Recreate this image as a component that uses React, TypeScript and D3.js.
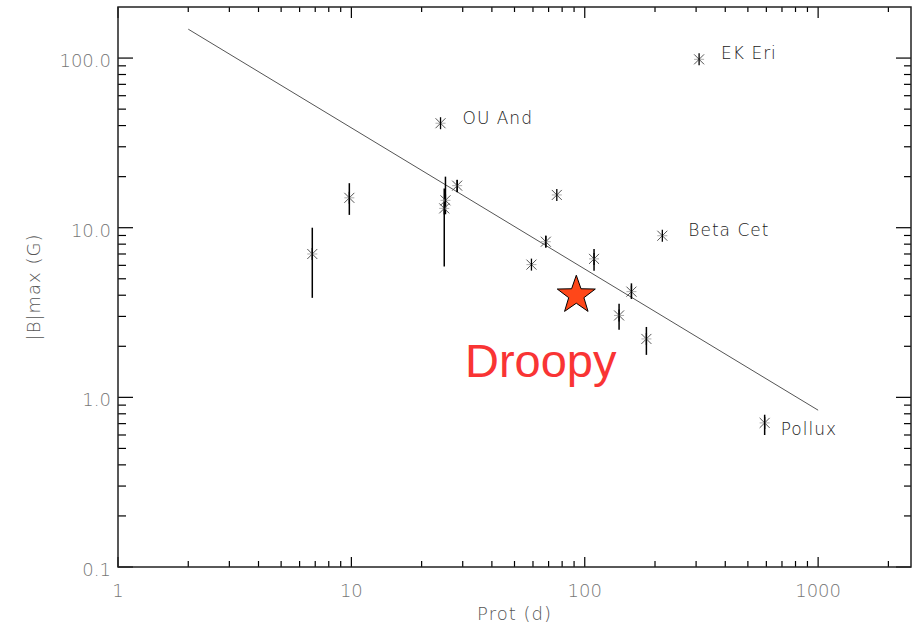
import React from "react";
import * as d3 from "d3";

// rotation period (d) and max field (G) for the stars
const prot = [6.8, 9.8, 24.1, 25.3, 25.0, 28.4, 59.1, 68.1, 75.9, 109.6, 140.3, 158.5, 183.7, 215, 309, 590];
const bmax = [7.0, 15.0, 41.3, 14.5, 13.0, 17.7, 6.06, 8.27, 15.6, 6.55, 3.04, 4.2, 2.21, 8.97, 98.3, 0.707];
const errLo = [3.86, 11.9, 41.3, 12.0, 5.9, 16.2, 6.06, 7.67, 15.6, 5.58, 2.5, 3.8, 1.78, 8.97, 98.3, 0.6];
const errHi = [10.0, 18.3, 41.3, 20.0, 17.0, 19.1, 6.06, 8.97, 15.6, 7.5, 3.56, 4.7, 2.6, 8.97, 98.3, 0.79];

// named stars: index into the arrays above
const labelNames = ["OU And", "EK Eri", "Beta Cet", "Pollux"];
const labelIdx = [2, 14, 13, 15];

const fitX = [2, 1000];
const fitY = [148, 0.84];

const droopyP = 92;
const droopyB = 4.0;

const xMajor = [1, 10, 100, 1000];
const xMajorLabels = ["1", "10", "100", "1000"];
const yMajor = [0.1, 1, 10, 100];
const yMajorLabels = ["0.1", "1.0", "10.0", "100.0"];

const W = 917;
const H = 625;
const m = { top: 7, right: 6, bottom: 58, left: 118 };

// where each label sits relative to its point
const labelOffset: Record<string, [number, number]> = {
  "OU And": [22, 1],
  "EK Eri": [22, 0],
  "Beta Cet": [26, 0],
  Pollux: [16, 12],
};

const minorTicks = (lo: number, hi: number) => {
  const out: number[] = [];
  for (let p = Math.floor(Math.log10(lo)); p <= Math.ceil(Math.log10(hi)); p++) {
    for (let k = 2; k <= 9; k++) {
      const v = k * Math.pow(10, p);
      if (v > lo && v < hi) out.push(v);
    }
  }
  return out;
};

const starPath = (cx: number, cy: number, R: number, r: number) => {
  const pts: string[] = [];
  for (let i = 0; i < 10; i++) {
    const a = -Math.PI / 2 + (i * Math.PI) / 5;
    const rr = i % 2 === 0 ? R : r;
    pts.push(`${(cx + rr * Math.cos(a)).toFixed(2)},${(cy + rr * Math.sin(a)).toFixed(2)}`);
  }
  return "M" + pts.join("L") + "Z";
};

const App = () => {
  const x = d3.scaleLog().domain([1, 2500]).range([m.left, W - m.right]);
  const y = d3.scaleLog().domain([0.1, 200]).range([H - m.bottom, m.top]);
  const x0 = m.left;
  const x1 = W - m.right;
  const y0 = H - m.bottom;
  const y1 = m.top;
  const tickFont = "DejaVu Sans, sans-serif";

  const line = d3
    .line<number>()
    .x((d, i) => x(fitX[i]))
    .y((d) => y(d));

  return (
    <div>
      <style>{`body{margin:0}`}</style>
      <svg width={W} height={H} style={{ display: "block", background: "#fff" }}>
        {/* ticks, mirrored on all sides */}
        <g stroke="#000" strokeWidth={1.2}>
          {xMajor.map((v) => (
            <g key={"xm" + v}>
              <line x1={x(v)} x2={x(v)} y1={y0} y2={y0 - 10} />
              <line x1={x(v)} x2={x(v)} y1={y1} y2={y1 + 11} />
            </g>
          ))}
          {minorTicks(1, 2500).map((v) => (
            <g key={"xn" + v}>
              <line x1={x(v)} x2={x(v)} y1={y0} y2={y0 - 6} />
              <line x1={x(v)} x2={x(v)} y1={y1} y2={y1 + 5} />
            </g>
          ))}
          {yMajor.map((v) => (
            <g key={"ym" + v}>
              <line x1={x0} x2={x0 + 15} y1={y(v)} y2={y(v)} />
              <line x1={x1} x2={x1 - 15} y1={y(v)} y2={y(v)} />
            </g>
          ))}
          {minorTicks(0.1, 200).map((v) => (
            <g key={"yn" + v}>
              <line x1={x0} x2={x0 + 8} y1={y(v)} y2={y(v)} />
              <line x1={x1} x2={x1 - 7} y1={y(v)} y2={y(v)} />
            </g>
          ))}
        </g>
        <rect x={x0} y={y1} width={x1 - x0} height={y0 - y1} fill="none" stroke="#222" strokeWidth={1.5} />

        {/* tick labels */}
        <g fontFamily={tickFont} fontSize={18} fontWeight={200} fill="#777">
          {xMajor.map((v, i) => (
            <text key={"xl" + v} x={x(v)} y={597} textAnchor="middle">
              {xMajorLabels[i]}
            </text>
          ))}
          {yMajor.map((v, i) => (
            <text key={"yl" + v} x={x0 - 7} y={y(v) + 9} textAnchor="end">
              {yMajorLabels[i]}
            </text>
          ))}
        </g>
        <text x={(x0 + x1) / 2} y={620} textAnchor="middle" fontFamily={tickFont} fontSize={18} fontWeight={200} fill="#555" letterSpacing={1}>
          Prot (d)
        </text>
        <text
          transform={`translate(40,${(y0 + y1) / 2}) rotate(-90)`}
          textAnchor="middle"
          fontFamily={tickFont}
          fontSize={18}
          fontWeight={200}
          fill="#555"
          letterSpacing={1}
        >
          |B|max (G)
        </text>

        {/* fit line */}
        <path d={line(fitY) || ""} fill="none" stroke="#555" strokeWidth={1} />

        {/* error bars */}
        <g stroke="#000" strokeWidth={1.5}>
          {prot.map((p, i) =>
            errHi[i] > errLo[i] ? (
              <line key={"e" + i} x1={x(p)} x2={x(p)} y1={y(errLo[i])} y2={y(errHi[i])} />
            ) : null
          )}
        </g>

        {/* asterisks */}
        <g>
          {prot.map((p, i) => {
            const cx = x(p);
            const cy = y(bmax[i]);
            return (
              <g key={"s" + i}>
                <line x1={cx - 5} x2={cx + 5} y1={cy - 5} y2={cy + 5} stroke="#555" strokeWidth={1} />
                <line x1={cx - 5} x2={cx + 5} y1={cy + 5} y2={cy - 5} stroke="#555" strokeWidth={1} />
                <line x1={cx - 5} x2={cx + 5} y1={cy} y2={cy} stroke="#999" strokeWidth={0.8} />
                <line x1={cx} x2={cx} y1={cy - 6} y2={cy + 6} stroke="#000" strokeWidth={1.3} />
              </g>
            );
          })}
        </g>

        {/* star names */}
        <g fontFamily={tickFont} fontSize={17} fontWeight={200} fill="#222" letterSpacing={1}>
          {labelNames.map((name, k) => {
            const i = labelIdx[k];
            const [dx, dy] = labelOffset[name];
            return (
              <text key={name} x={x(prot[i]) + dx} y={y(bmax[i]) + dy} style={{ whiteSpace: "pre" }}>
                {name}
              </text>
            );
          })}
        </g>

        {/* Droopy */}
        <path d={starPath(x(droopyP), y(droopyB), 20, 8)} fill="#FF4719" stroke="#000" strokeWidth={1} />
        <text x={465} y={377} fontFamily="Liberation Sans, Arial, sans-serif" fontSize={47} fill="#F93434">
          Droopy
        </text>
      </svg>
    </div>
  );
};

export default App;
